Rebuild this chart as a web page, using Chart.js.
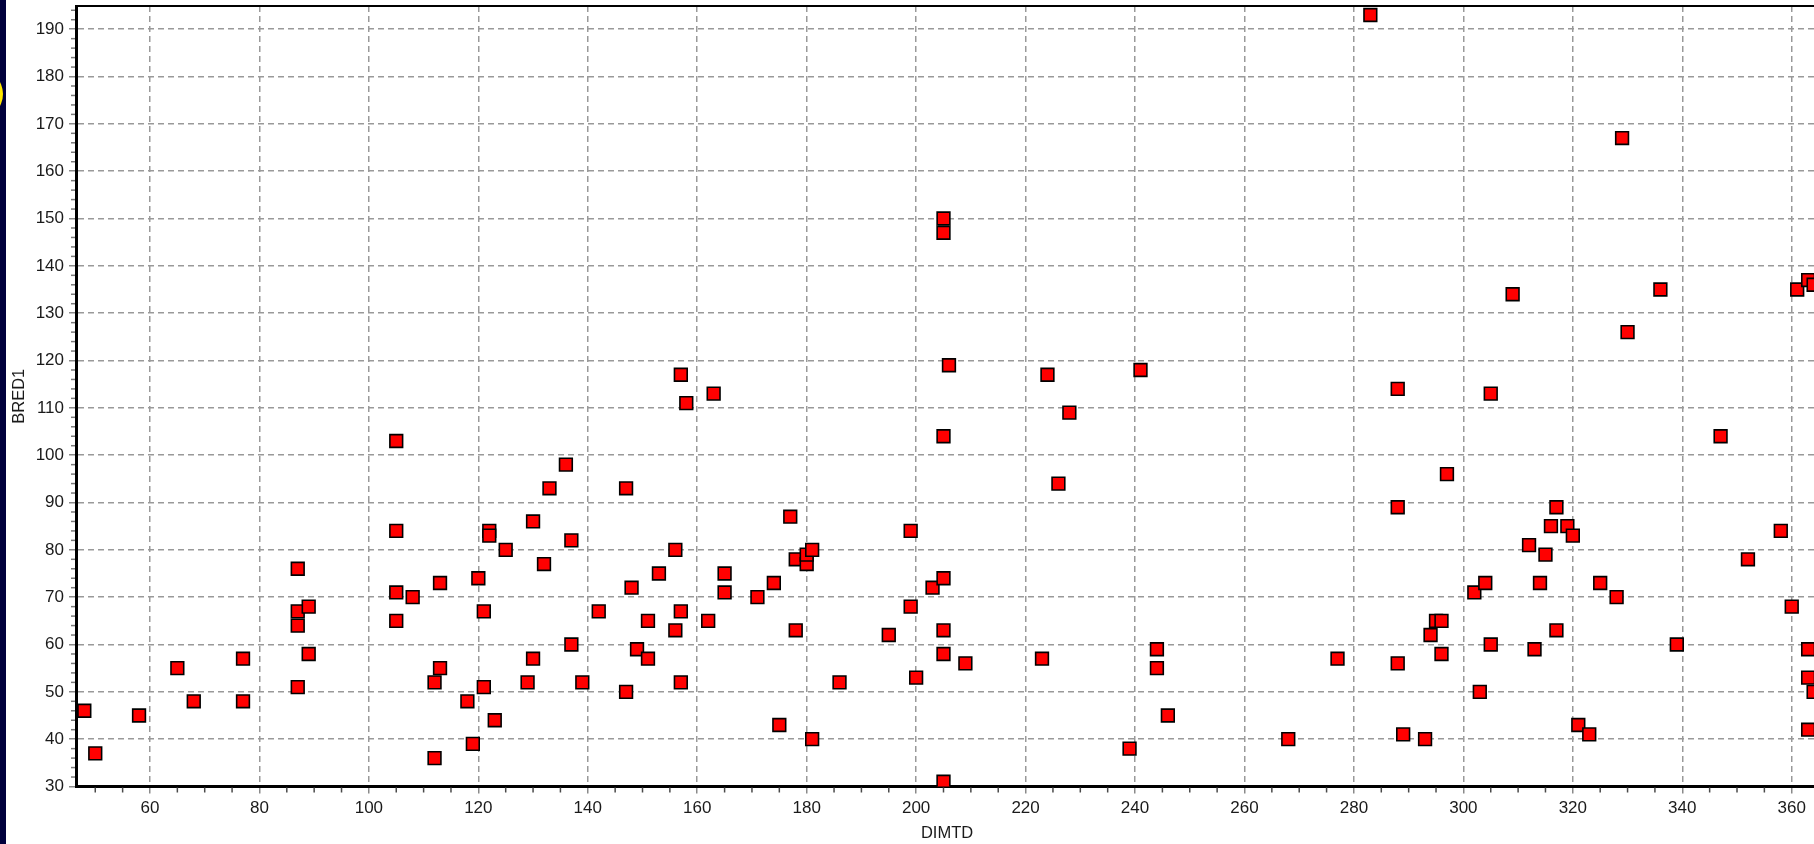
<!DOCTYPE html>
<html>
<head>
<meta charset="utf-8">
<title>BRED1 vs DIMTD</title>
<script src="https://cdn.jsdelivr.net/npm/chart.js@4/dist/chart.umd.min.js"></script>
<style>
  html, body { margin: 0; padding: 0; background: #ffffff; overflow: hidden; width: 1814px; height: 844px; }
  #wrap { position: relative; width: 1814px; height: 844px; overflow: hidden; }
  #plot { position: absolute; left: 0; top: 0; }
  #band { position: absolute; left: 0; top: 0; width: 6px; height: 844px; background: #00003c; overflow: hidden; }
  #mark { position: absolute; left: -47px; top: 69px; width: 50px; height: 50px; border-radius: 50%; background: #ffe800; }
</style>
</head>
<body>
<div id="wrap">
  <canvas id="plot" width="1820" height="844"></canvas>
  <div id="band"><div id="mark"></div></div>
</div>
<script>
// Days in milk (DIMTD) for each animal
const dimtd = [
  48, 50, 58, 65, 68, 77, 77, 87, 87, 87,
  87, 89, 89, 105, 105, 105, 105, 108, 113, 113,
  112, 112, 118, 119, 120, 121, 121, 122, 122, 123,
  125, 129, 130, 130, 132, 133, 136, 137, 137, 139,
  142, 147, 147, 148, 149, 151, 151, 153, 156, 156,
  157, 157, 157, 158, 162, 163, 165, 165, 171, 174,
  175, 177, 178, 178, 180, 180, 181, 181, 186, 195,
  199, 199, 200, 203, 205, 205, 205, 205, 205, 205,
  205, 206, 209, 223, 224, 226, 228, 239, 241, 244,
  244, 246, 268, 277, 283, 288, 288, 288, 289, 293,
  294, 295, 296, 296, 297, 302, 303, 304, 305, 305,
  309, 312, 313, 314, 315, 316, 317, 317, 319, 320,
  321, 323, 325, 328, 329, 330, 336, 339, 347, 352,
  358, 360, 361, 363, 364, 363, 363, 364, 363
];

// BRED1 value for each animal, same order as dimtd
const bred1 = [
  46, 37, 45, 55, 48, 57, 48, 76, 67, 64,
  51, 68, 58, 103, 84, 71, 65, 70, 73, 55,
  52, 36, 48, 39, 74, 67, 51, 84, 83, 44,
  80, 52, 86, 57, 77, 93, 98, 82, 60, 52,
  67, 93, 50, 72, 59, 65, 57, 75, 80, 63,
  117, 67, 52, 111, 65, 113, 75, 71, 70, 73,
  43, 87, 78, 63, 77, 79, 80, 40, 52, 62,
  84, 68, 53, 72, 74, 63, 58, 31, 104, 150,
  147, 119, 56, 57, 117, 94, 109, 38, 118, 59,
  55, 45, 40, 57, 193, 114, 89, 56, 41, 40,
  62, 65, 65, 58, 96, 71, 50, 73, 60, 113,
  134, 81, 59, 73, 79, 85, 89, 63, 85, 83,
  43, 41, 73, 70, 167, 126, 135, 60, 104, 78,
  84, 68, 135, 137, 136, 59, 53, 50, 42
];

// Axis ranges and tick spacing
const xMin = 46.48, xMax = 364.8, xStep = 20, xMinorStep = 5;
const yMin = 30, yMax = 194.9, yStep = 10, yMinorStep = 2;

const points = dimtd.map((d, i) => ({ x: d, y: bred1[i] }));

const fontFamily = "'Liberation Sans', Arial, sans-serif";
const tickFont = { family: fontFamily, size: 17 };
const titleFont = { family: fontFamily, size: 16.5 };
const gridStyle = {
  color: '#999999',
  lineWidth: 1.5,
  tickColor: '#8a8a8a',
  tickWidth: 1.5,
  tickLength: 7,
  drawTicks: true
};
// Axis line; "dash" styles the grid lines that run across the plot
const axisBorder = { display: true, color: '#000000', width: 3, dash: [6, 4] };

// Frame top edge plus the small minor tick marks on both axes
const axisDecor = {
  id: 'axisDecor',
  afterDatasetsDraw(chart) {
    const { ctx, chartArea: a, scales } = chart;
    const xs = scales.x, ys = scales.y;
    ctx.save();
    ctx.strokeStyle = '#000000';
    ctx.lineWidth = 2;
    ctx.beginPath();
    ctx.moveTo(a.left, a.top);
    ctx.lineTo(a.right, a.top);
    ctx.stroke();

    ctx.strokeStyle = '#4a4a4a';
    ctx.lineWidth = 1.5;
    const firstX = Math.ceil(xs.min / xMinorStep) * xMinorStep;
    for (let v = firstX; v <= xs.max; v += xMinorStep) {
      if (v % xStep === 0) continue;
      const px = xs.getPixelForValue(v);
      ctx.beginPath();
      ctx.moveTo(px, a.bottom + 1);
      ctx.lineTo(px, a.bottom + 6);
      ctx.stroke();
    }
    ctx.strokeStyle = '#7a7a7a';
    const firstY = Math.ceil(ys.min / yMinorStep) * yMinorStep;
    for (let v = firstY; v <= ys.max; v += yMinorStep) {
      if (v % yStep === 0) continue;
      const py = ys.getPixelForValue(v);
      ctx.beginPath();
      ctx.moveTo(a.left - 5, py);
      ctx.lineTo(a.left - 1, py);
      ctx.stroke();
    }
    ctx.restore();
  }
};

new Chart(document.getElementById('plot'), {
  type: 'scatter',
  data: {
    datasets: [{
      label: 'BRED1',
      data: points,
      pointStyle: 'rect',
      pointRadius: 9,
      pointHoverRadius: 9,
      backgroundColor: '#ff0000',
      borderColor: '#000000',
      pointBorderWidth: 1.6,
      borderWidth: 1.6
    }]
  },
  options: {
    responsive: false,
    animation: false,
    events: [],
    layout: { autoPadding: false, padding: { top: 6, right: 2, left: 0, bottom: 0 } },
    plugins: {
      legend: { display: false },
      tooltip: { enabled: false },
      title: { display: false }
    },
    scales: {
      x: {
        type: 'linear',
        position: 'bottom',
        min: xMin,
        max: xMax,
        afterFit(scale) {
          scale.height = 57.5;
          scale.paddingLeft = 0;
          scale.paddingRight = 0;
        },
        ticks: {
          stepSize: xStep,
          includeBounds: false,
          autoSkip: false,
          maxRotation: 0,
          padding: 5,
          color: '#1a1a1a',
          font: tickFont
        },
        grid: gridStyle,
        border: axisBorder,
        title: {
          display: true,
          text: 'DIMTD',
          color: '#1a1a1a',
          font: titleFont,
          padding: { top: 0, bottom: 1 }
        }
      },
      y: {
        type: 'linear',
        position: 'left',
        min: yMin,
        max: yMax,
        afterFit(scale) {
          scale.width = 76;
          scale.paddingTop = 0;
          scale.paddingBottom = 0;
        },
        ticks: {
          stepSize: yStep,
          includeBounds: false,
          autoSkip: false,
          padding: 5,
          color: '#1a1a1a',
          font: tickFont
        },
        grid: gridStyle,
        border: axisBorder,
        title: {
          display: true,
          text: 'BRED1',
          color: '#1a1a1a',
          font: titleFont,
          padding: { top: 10, bottom: 0 }
        }
      }
    }
  },
  plugins: [axisDecor]
});
</script>
</body>
</html>
